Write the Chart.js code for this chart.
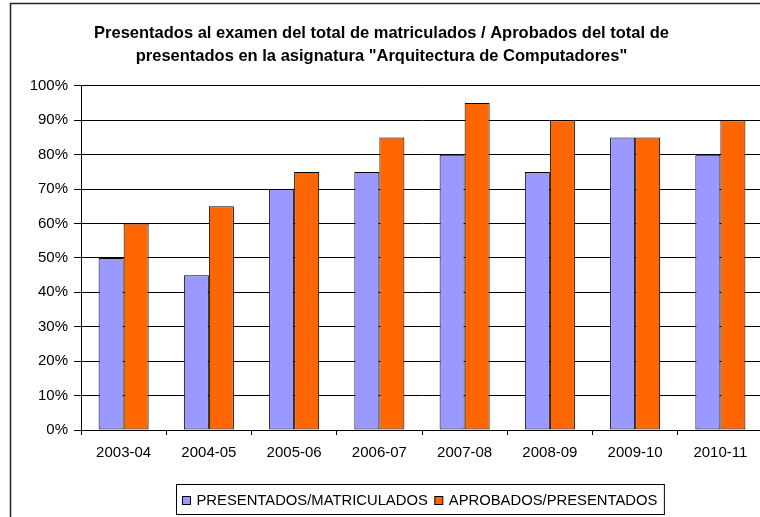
<!DOCTYPE html>
<html lang="es">
<head>
<meta charset="UTF-8">
<title>Arquitectura de Computadores</title>
<style>
  html, body { margin: 0; padding: 0; background: #fff; overflow: hidden; }
  canvas { display: block; }
</style>
</head>
<body>
<canvas id="myChart" width="763" height="517"></canvas>
<script src="https://cdn.jsdelivr.net/npm/chart.js"></script>
<script>
const cursos = ["2003-04", "2004-05", "2005-06", "2006-07", "2007-08", "2008-09", "2009-10", "2010-11"];
const presentados = [50, 45, 70, 75, 80, 75, 85, 80];
const aprobados = [60, 65, 75, 85, 95, 90, 85, 90];
const nombres = ["PRESENTADOS/MATRICULADOS", "APROBADOS/PRESENTADOS"];
const colores = ["#9999FF", "#FF6600"];
const titulo = [
  "Presentados al examen del total de matriculados / Aprobados del total de",
  "presentados en la asignatura \"Arquitectura de Computadores\""
];

const FONT = "'Liberation Sans', Arial, sans-serif";

// outer chart border + legend box like the excel original
const marco = {
  id: "marco",
  afterDraw(chart) {
    const ctx = chart.ctx;
    ctx.save();
    ctx.strokeStyle = "#222";
    ctx.lineWidth = 1.5;
    ctx.beginPath();
    ctx.moveTo(10.5, 520);
    ctx.lineTo(10.5, 3.5);
    ctx.lineTo(770, 3.5);
    ctx.stroke();

    // legend
    ctx.font = "14.8px " + FONT;
    const w1 = ctx.measureText(nombres[0]).width;
    const w2 = ctx.measureText(nombres[1]).width;
    const sq = 8;
    const boxW = 6 + sq + 6 + w1 + 7 + sq + 6 + w2 + 7;
    const boxH = 30;
    const x0 = Math.round(420 - boxW / 2) + 0.5;
    const y0 = 484.5;
    ctx.fillStyle = "#fff";
    ctx.fillRect(x0, y0, boxW, boxH);
    ctx.strokeStyle = "#000";
    ctx.lineWidth = 1;
    ctx.strokeRect(x0, y0, boxW, boxH);
    const cy = y0 + boxH / 2;
    let x = x0 + 6;
    [0, 1].forEach(i => {
      ctx.fillStyle = colores[i];
      ctx.fillRect(x, cy - sq / 2 + 1, sq, sq);
      ctx.strokeRect(x, cy - sq / 2 + 1, sq, sq);
      x += sq + 6;
      ctx.fillStyle = "#000";
      ctx.textBaseline = "middle";
      ctx.textAlign = "left";
      ctx.fillText(nombres[i], x, cy + 1);
      x += (i === 0 ? w1 : w2) + 7;
    });
    ctx.restore();
  }
};

new Chart(document.getElementById("myChart"), {
  type: "bar",
  data: {
    labels: cursos,
    datasets: [
      { label: nombres[0], data: presentados, backgroundColor: colores[0] },
      { label: nombres[1], data: aprobados, backgroundColor: colores[1] }
    ]
  },
  options: {
    responsive: false,
    animation: false,
    datasets: {
      bar: {
        borderColor: "#000",
        borderWidth: 1,
        borderSkipped: false,
        categoryPercentage: 0.587,
        barPercentage: 1
      }
    },
    layout: { padding: { left: 0, right: 0, top: 0, bottom: 0 } },
    plugins: {
      legend: { display: false },
      tooltip: { enabled: false },
      title: {
        display: true,
        text: titulo,
        color: "#000",
        font: { family: FONT, size: 16.5, weight: "bold", lineHeight: 1.45 },
        padding: { top: 21, bottom: 17 }
      }
    },
    scales: {
      x: {
        grid: { display: true, drawOnChartArea: false, color: "#000", tickColor: "#000", tickLength: 5, offset: true },
        border: { color: "#000", width: 1 },
        ticks: { color: "#000", font: { family: FONT, size: 15 }, padding: 9, maxRotation: 0 },
        afterFit(scale) { scale.height = 87; }
      },
      y: {
        min: 0,
        max: 100,
        grid: { color: "#000", tickColor: "#000", tickLength: 7 },
        border: { color: "#000", width: 1 },
        ticks: {
          stepSize: 10,
          color: "#000",
          font: { family: FONT, size: 15 },
          padding: 6,
          callback: v => v + "%"
        },
        afterFit(scale) { scale.width = 81; }
      }
    }
  },
  plugins: [marco]
});
</script>
</body>
</html>
